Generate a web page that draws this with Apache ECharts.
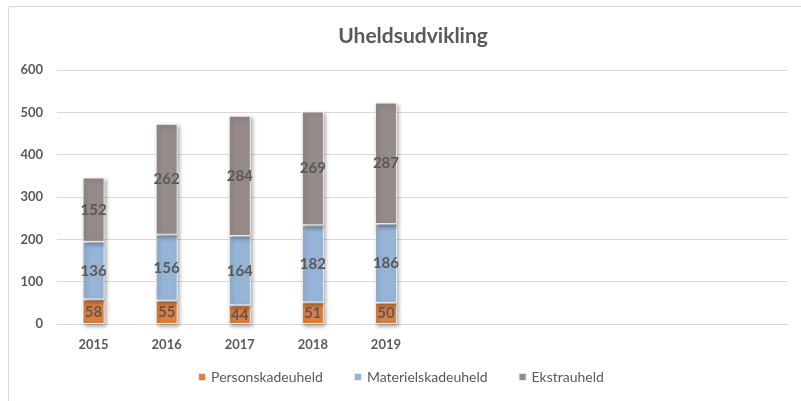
<!DOCTYPE html>
<html><head><meta charset="utf-8">
<script src="https://cdn.jsdelivr.net/npm/echarts@6/dist/echarts.min.js"></script>
<style>html,body{margin:0;padding:0;background:#fff}#c{width:801px;height:401px}</style>
</head><body><div id="c"></div>
<script>
const categories = ['2015','2016','2017','2018','2019','','','','',''];
const person = [58,55,44,51,50];
const materiel = [136,156,164,182,186];
const ekstra = [152,262,284,269,287];
const yTicks = [0,100,200,300,400,500,600];

const chart = echarts.init(document.getElementById('c'));
const font = 'Lato, "Open Sans", sans-serif';
const txt = '#595959';
function s(name, data, color){
  return {name, type:'bar', stack:'a', data, barWidth:22,
    itemStyle:{color, borderColor:'rgba(255,255,255,0.8)', borderWidth:1,
      shadowColor:'rgba(0,0,0,0.35)', shadowBlur:4, shadowOffsetX:2, shadowOffsetY:2},
    label:{show:true, position:'inside', color:txt, fontFamily:font, fontWeight:'bold', fontSize:15}};
}
chart.setOption({
  animation:false,
  textStyle:{fontFamily:font},
  title:{text:'Uheldsudvikling', left:408, top:21, textAlign:'center',
    textStyle:{fontFamily:font, fontWeight:'bold', fontSize:21, color:txt}},
  graphic:[{type:'rect', shape:{x:8.5,y:6.5,width:800,height:400}, style:{fill:'none', stroke:'#d9d9d9', lineWidth:1}, silent:true}],
  legend:{bottom:12, left:'center', itemWidth:8, itemHeight:8, itemGap:30, icon:'rect',
    textStyle:{fontFamily:font, fontSize:14, color:txt}},
  grid:{left:57, right:13, top:70, bottom:77, containLabel:false},
  xAxis:{type:'category', data:categories,
    axisLine:{lineStyle:{color:'#d9d9d9', width:1}}, axisTick:{show:false},
    axisLabel:{color:txt, fontFamily:font, fontWeight:'bold', fontSize:13, margin:14}},
  yAxis:{type:'value', min:yTicks[0], max:yTicks[yTicks.length-1], interval:100,
    axisLine:{show:false}, axisTick:{show:false},
    splitLine:{lineStyle:{color:'#d9d9d9'}},
    axisLabel:{color:txt, fontFamily:font, fontWeight:'bold', fontSize:13, margin:14}},
  series:[s('Personskadeuheld', person, '#DE7D3D'), s('Materielskadeuheld', materiel, '#95B4D6'), s('Ekstrauheld', ekstra, '#958B89')]
});
</script></body></html>
